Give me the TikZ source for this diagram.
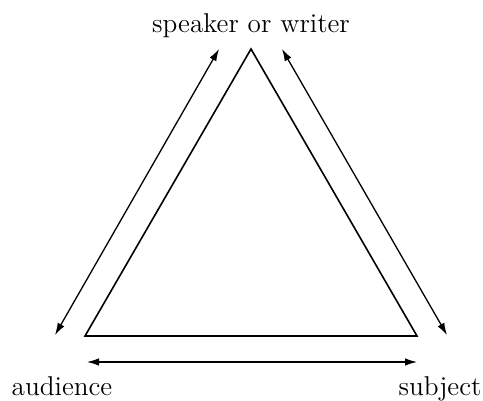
\documentclass[tikz,border=0pt]{standalone}
\usepackage{tikz}
\usetikzlibrary{arrows.meta,positioning,calc}

\begin{document}
\begin{tikzpicture}[
  x=0.5pt,y=-0.5pt,
  side/.style={draw=black,line width=0.8pt,line join=miter},
  link/.style={{Latex[length=6pt,width=3.8pt]}-{Latex[length=6pt,width=3.8pt]},draw=black,line width=0.65pt},
  role/.style={font=\fontsize{13.6}{15}\selectfont,inner sep=0pt,anchor=base}
]
\useasboundingbox (0,0) rectangle (483,401);
% triangle corners
\coordinate (top) at (251,49);
\coordinate (left) at (85,336);
\coordinate (right) at (417,336);
\draw[side] (top) -- (left) -- (right) -- cycle;

\node[role] (speaker) at (251,33) {speaker or writer};
\node[role] (audience) at (62,395) {audience};
\node[role] (subject) at (440,395) {subject};

% arrow ends
\coordinate (ltop) at (219,49);
\coordinate (lbot) at (55,335);
\coordinate (rtop) at (282,49);
\coordinate (rbot) at (447,335);
\coordinate (bleft) at (87,362);
\coordinate (bright) at (417,362);
\draw[link] (ltop) -- (lbot);
\draw[link] (rtop) -- (rbot);
\draw[link] (bleft) -- (bright);
\end{tikzpicture}
\end{document}
